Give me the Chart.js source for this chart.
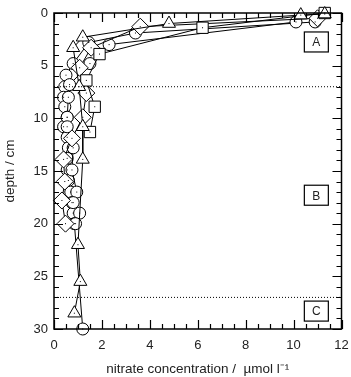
<!DOCTYPE html>
<html>
<head>
<meta charset="utf-8">
<script src="https://cdn.jsdelivr.net/npm/chart.js@4/dist/chart.umd.min.js"></script>
<style>
  html, body { margin: 0; padding: 0; background: #fff; }
  #wrap { width: 351px; height: 377px; }
</style>
</head>
<body>
<div id="wrap"><canvas id="profile"></canvas></div>
<script>
// nitrate profiles, [concentration, depth]
const circlesA = [[10.9, 0.85], [3.4, 1.9], [1.45, 2.8], [0.8, 4.8], [0.5, 5.9], [0.45, 7], [0.4, 8], [0.45, 8.9],
  [0.55, 9.9], [0.4, 10.8], [0.55, 11.8], [0.6, 12.8], [0.55, 13.8], [0.55, 14.9], [0.6, 15.9], [0.7, 17],
  [0.75, 18], [0.8, 19], [0.85, 20], [1.2, 30]];
const circlesB = [[10.1, 0.85], [2.3, 3.0], [1.5, 4.8], [0.65, 6.8], [0.6, 8], [0.55, 9.9], [0.55, 10.8],
  [0.8, 12.8], [0.75, 14.9], [0.95, 17], [0.8, 18], [1.07, 19], [0.9, 20]];
const squares = [[11.3, 0.0], [6.2, 1.4], [1.9, 3.9], [1.35, 6.4], [1.7, 8.9], [1.5, 11.3]];
const diamonds = [[11.0, 0.5], [3.6, 1.3], [1.55, 3.3], [1.07, 5.2], [1.35, 7.6], [1.2, 9.9], [0.75, 11.9],
  [0.4, 13.9], [0.45, 16], [0.33, 17.8], [0.48, 20]];
const triangles = [[11.3, 0.1], [10.3, 0.2], [4.8, 1.0], [1.2, 2.3], [0.8, 3.3], [1.05, 7], [1.2, 10.8],
  [1.2, 13.9], [1.0, 22], [1.1, 25.5], [0.85, 28.5]];
const zoneDepths = [7, 27];
const zoneLabels = [['A', 2.75], ['B', 17.3], ['C', 28.3]];
const xTicks = [0, 2, 4, 6, 8, 10, 12];
const yTicks = [0, 5, 10, 15, 20, 25, 30];

const toPts = arr => arr.map(p => ({x: p[0], y: p[1]}));

function profile(arr, style, r) {
  return {
    data: toPts(arr), showLine: true, borderColor: '#000', borderWidth: 1, clip: false,
    pointStyle: style, pointRadius: r, pointBackgroundColor: '#fff',
    pointBorderColor: '#000', pointBorderWidth: 1, dotted: true
  };
}

const datasets = [];
zoneDepths.forEach(d => {
  datasets.push({
    data: [{x: 0, y: d}, {x: 12, y: d}], showLine: true, borderColor: '#000',
    borderWidth: 1, borderDash: [1, 2], pointRadius: 0
  });
});
datasets.push(profile(triangles, 'triangle', 7.5));
datasets.push(profile(squares, 'rect', 8));
datasets.push(profile(diamonds, 'rectRot', 8.5));
datasets.push(profile(circlesB, 'circle', 6));
datasets.push(profile(circlesA, 'circle', 6));

// inward ticks on all four sides, frame, zone boxes and centre dots
const decor = {
  id: 'decor',
  afterDatasetsDraw(chart) {
    const ctx = chart.ctx, a = chart.chartArea;
    const xs = chart.scales.x, ys = chart.scales.y;
    ctx.save();
    // centre dots on markers
    ctx.fillStyle = '#000';
    chart.data.datasets.forEach((ds, i) => {
      if (!ds.dotted) return;
      chart.getDatasetMeta(i).data.forEach(pt => {
        ctx.fillRect(pt.x - 0.5, pt.y - 0.5, 1, 1);
      });
    });
    ctx.strokeStyle = '#000';
    ctx.lineWidth = 1.5;
    ctx.strokeRect(a.left, a.top, a.right - a.left, a.bottom - a.top);
    ctx.lineWidth = 1.2;
    ctx.beginPath();
    for (let v = 0; v <= 12.001; v += 0.5) {
      const px = Math.round(xs.getPixelForValue(v)) + 0.5;
      const len = (Math.abs(v % 2) < 0.01) ? 9 : 5;
      ctx.moveTo(px, a.bottom); ctx.lineTo(px, a.bottom - len);
      ctx.moveTo(px, a.top); ctx.lineTo(px, a.top + len);
    }
    for (let v = 0; v <= 30; v += 1) {
      const py = Math.round(ys.getPixelForValue(v)) + 0.5;
      const len = (v % 5 === 0) ? 9 : 5;
      ctx.moveTo(a.left, py); ctx.lineTo(a.left + len, py);
      ctx.moveTo(a.right, py); ctx.lineTo(a.right - len, py);
    }
    ctx.stroke();
    // zone boxes
    ctx.font = '12px "Liberation Sans", Arial, sans-serif';
    ctx.textAlign = 'center';
    ctx.textBaseline = 'middle';
    zoneLabels.forEach(z => {
      const cx = xs.getPixelForValue(10.95), cy = ys.getPixelForValue(z[1]);
      ctx.fillStyle = '#fff';
      ctx.fillRect(cx - 12, cy - 10, 24, 20);
      ctx.lineWidth = 1.2;
      ctx.strokeRect(cx - 12, cy - 10, 24, 20);
      ctx.fillStyle = '#222';
      ctx.fillText(z[0], cx, cy + 1);
    });
    ctx.restore();
  }
};

const ctx = document.getElementById('profile').getContext('2d');
const chart = new Chart(ctx, {
  type: 'scatter',
  data: { datasets: datasets },
  options: {
    responsive: true,
    maintainAspectRatio: false,
    animation: false,
    layout: { padding: { top: 13, right: 7, left: 0, bottom: 0 } },
    plugins: { legend: { display: false }, tooltip: { enabled: false } },
    scales: {
      x: {
        type: 'linear', min: 0, max: 12,
        afterBuildTicks: s => { s.ticks = xTicks.map(v => ({value: v})); },
        afterFit: s => { s.height = 48; s.paddingRight = 0; s.paddingLeft = 0; },
        grid: { display: false, drawTicks: false },
        border: { display: false },
        ticks: { padding: 9, color: '#222', font: { family: '"Liberation Sans", Arial', size: 13 } },
        title: {
          display: true, text: 'nitrate concentration /  \u00b5mol l\u207b\u00b9', color: '#222',
          font: { family: '"Liberation Sans", Arial', size: 13.5 }, padding: { top: 6, bottom: 0 }
        }
      },
      y: {
        type: 'linear', min: 0, max: 30, reverse: true,
        afterBuildTicks: s => { s.ticks = yTicks.map(v => ({value: v})); },
        afterFit: s => { s.width = 54; s.paddingTop = 0; s.paddingBottom = 0; },
        grid: { display: false, drawTicks: false },
        border: { display: false },
        ticks: { padding: 6, color: '#222', font: { family: '"Liberation Sans", Arial', size: 13 } },
        title: {
          display: true, text: 'depth / cm', color: '#222',
          font: { family: '"Liberation Sans", Arial', size: 13.5 }, padding: { top: 2, bottom: 0 }
        }
      }
    }
  },
  plugins: [decor]
});
</script>
</body>
</html>
